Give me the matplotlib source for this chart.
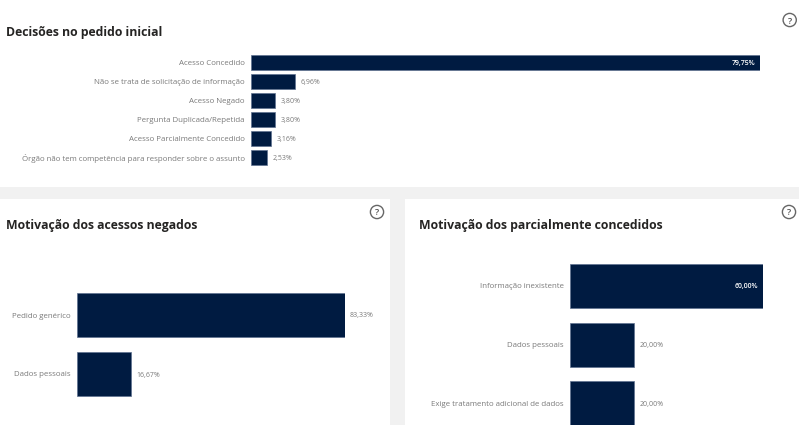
import matplotlib
matplotlib.use("Agg")
import matplotlib.pyplot as plt
from matplotlib.patches import Rectangle, Circle
from matplotlib.transforms import Affine2D

W, H = 806, 425
plt.rcParams['font.family'] = ['Open Sans', 'DejaVu Sans']

top_cats = ["Acesso Concedido", "Não se trata de solicitação de informação", "Acesso Negado",
            "Pergunta Duplicada/Repetida", "Acesso Parcialmente Concedido",
            "Órgão não tem competência para responder sobre o assunto"]
top_vals = [79.75, 6.96, 3.80, 3.80, 3.16, 2.53]
left_cats = ["Pedido genérico", "Dados pessoais"]
left_vals = [83.33, 16.67]
right_cats = ["Informação inexistente", "Dados pessoais", "Exige tratamento adicional de dados"]
right_vals = [60.00, 20.00, 20.00]

BAR = "#001b41"
EDGE = "#5f7190"
LABEL = "#7a7a7a"
TITLE = "#252423"
GREY = "#f1f1f1"

fig = plt.figure(figsize=(W / 100, H / 100), dpi=100, facecolor="white")
# pixel transform with origin at top-left
px = Affine2D().scale(1 / W, -1 / H).translate(0, 1) + fig.transFigure


def pct(v):
    return f"{v:.2f}%".replace(".", ",")


def panel(cats, vals, left, right, top, bottom, xmax, height, fs, vfs, inside_min):
    ax = fig.add_axes([left / W, 1 - bottom / H, (right - left) / W, (bottom - top) / H])
    ax.patch.set_alpha(0)
    ys = list(range(len(cats)))
    ax.barh(ys, vals, height=height, color=BAR, edgecolor=EDGE, linewidth=0.5)
    ax.set_xlim(0, xmax)
    ax.set_ylim(len(cats) - 0.5, -0.5)
    ax.set_yticks(ys, cats, fontsize=fs, color=LABEL)
    for lab in ax.get_yticklabels():
        lab.set_va("center_baseline")
    ax.set_xticks([])
    ax.tick_params(axis="y", length=0, pad=4.4)
    for s in ax.spines.values():
        s.set_visible(False)
    for y, v in zip(ys, vals):
        if v >= inside_min:
            ax.annotate(pct(v), (v, y), xytext=(-3.5, 0), textcoords="offset points", ha="right",
                        va="center_baseline", fontsize=vfs, color="white", fontweight="semibold")
        else:
            ax.annotate(pct(v), (v, y), xytext=(4, 0), textcoords="offset points", ha="left",
                        va="center_baseline", fontsize=vfs, color=LABEL)
    return ax


# page background
fig.add_artist(Rectangle((0, 187), 799, 12, transform=px, fc=GREY, ec="none"))
fig.add_artist(Rectangle((390, 187), 15, 238, transform=px, fc=GREY, ec="none"))

panel(top_cats, top_vals, 251, 760, 53.5, 167, 79.75, 0.79, 5.65, 5.0, 50)
panel(left_cats, left_vals, 77, 344.5, 285.5, 403.5, 83.33, 0.755, 5.65, 5.0, 90)
panel(right_cats, right_vals, 570, 762.5, 256.5, 433, 60.0, 0.755, 5.65, 5.0, 50)

for x, y, t in [(6, 36, "Decisões no pedido inicial"),
                (6, 229, "Motivação dos acessos negados"),
                (419, 229, "Motivação dos parcialmente concedidos")]:
    fig.text(x / W, 1 - y / H, t, fontsize=8.8, fontweight="bold", color=TITLE, va="baseline", ha="left")

# help icons
for x, y in [(789.7, 20), (377, 212), (789, 212)]:
    fig.add_artist(Circle((x, y), 6.6, transform=px, fc="none", ec="#666666", lw=1.0))
    fig.text(x / W, 1 - y / H, "?", fontsize=6.5, color="#555555", ha="center", va="center_baseline",
             fontweight="semibold")

fig.savefig("out.png", dpi=100, facecolor="white")
